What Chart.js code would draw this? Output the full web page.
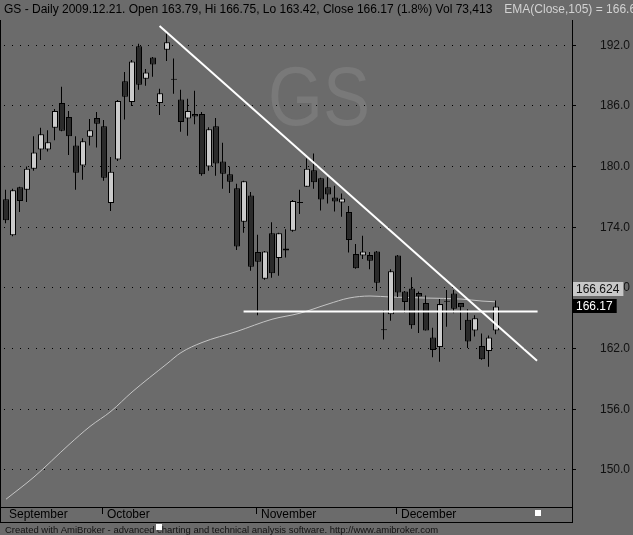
<!DOCTYPE html>
<html>
<head>
<meta charset="utf-8">
<script src="https://cdn.jsdelivr.net/npm/chart.js@4.4.0/dist/chart.umd.min.js"></script>
<style>
  html, body { margin: 0; padding: 0; background: #6b6b6b; }
  #wrap { width: 633px; height: 535px; }
  canvas { display: block; }
</style>
</head>
<body>
<div id="wrap"><canvas id="gsChart" width="633" height="535"></canvas></div>
<script>
// GS daily, 2009-09-11 .. 2009-12-21 (index = trading day)
const opens = [176.77, 173.2, 177.95, 177.7, 179.8, 181.7, 181.7, 183.85, 186.3, 184.9,
  182.1, 180.1, 182.95, 184.8, 184.0, 176.4, 180.7, 188.45, 186.4, 191.9,
  188.7, 190.8, 186.3, 191.55, 188.7, 186.65, 184.75, 185.2, 185.2, 180.0,
  184.0, 180.5, 179.25, 177.85, 174.55, 177.15, 171.55, 168.9, 173.4, 170.95,
  171.9, 173.65, 176.5, 178.0, 179.65, 178.85, 177.95, 176.95, 176.45, 175.5,
  171.35, 171.2, 171.25, 171.6, 163.92, 165.4, 171.2, 167.65, 167.95, 167.5,
  166.5, 163.1, 162.15, 166.72, 167.45, 166.5, 164.85, 163.8, 162.25, 161.75,
  163.79];
const highs = [177.7, 177.8, 178.0, 180.0, 183.0, 183.85, 183.6, 185.7, 187.9, 185.5,
  183.0, 182.8, 184.7, 185.4, 184.6, 180.95, 186.6, 189.35, 190.55, 192.15,
  189.65, 190.85, 187.7, 193.2, 190.7, 187.6, 186.7, 187.5, 185.4, 183.9,
  184.8, 182.35, 180.0, 178.3, 178.6, 177.5, 173.25, 171.65, 174.5, 173.45,
  173.8, 176.7, 177.7, 180.8, 181.3, 178.9, 178.95, 178.1, 177.35, 176.1,
  172.35, 173.15, 171.55, 171.65, 165.8, 169.85, 171.25, 167.7, 169.05, 167.65,
  167.25, 164.05, 166.9, 167.8, 167.8, 166.5, 165.9, 165.3, 163.5, 163.3,
  166.75];
const lows = [174.4, 173.1, 175.5, 176.5, 179.6, 180.65, 181.5, 182.6, 183.5, 181.15,
  177.7, 178.7, 182.1, 181.9, 178.6, 175.6, 180.55, 184.65, 186.0, 187.6,
  188.0, 188.9, 185.1, 190.45, 187.2, 183.45, 183.05, 184.2, 179.1, 179.6,
  179.1, 177.8, 177.4, 171.75, 173.45, 169.7, 165.3, 168.8, 169.0, 169.2,
  171.0, 173.55, 175.3, 178.0, 177.8, 175.65, 176.35, 175.55, 175.05, 171.5,
  169.9, 170.85, 169.85, 167.7, 162.9, 164.75, 167.1, 165.55, 163.95, 163.55,
  163.8, 161.15, 160.7, 164.15, 165.5, 163.85, 162.05, 163.2, 160.9, 160.2,
  163.42];
const closes = [174.69, 177.65, 176.6, 179.8, 181.4, 183.2, 182.4, 185.5, 183.55, 183.0,
  179.4, 182.5, 183.6, 184.25, 178.9, 179.5, 186.5, 186.9, 190.4, 188.1,
  189.3, 190.1, 187.25, 192.3, 188.6, 184.4, 185.5, 184.95, 179.25, 183.7,
  180.3, 179.3, 178.5, 172.1, 178.55, 170.1, 170.6, 171.6, 169.45, 173.4,
  171.7, 176.6, 176.4, 179.8, 178.45, 176.75, 177.25, 176.55, 176.85, 172.75,
  169.95, 171.6, 170.7, 168.5, 163.82, 169.65, 167.55, 166.6, 164.3, 167.15,
  163.8, 161.85, 166.4, 166.62, 165.95, 166.1, 162.7, 165.0, 160.95, 163.1,
  166.17];

// EMA(Close,105)
const emaIdx = [0, 4, 9, 12, 15, 18, 23, 25, 28, 33, 38, 42, 46, 49, 52, 55, 60, 65, 68, 70];
const emaVals = [147.1, 149.3, 152.5, 154.3, 155.8, 157.7, 160.5, 161.6, 162.6, 163.7,
  164.9, 165.5, 166.4, 167.0, 167.2, 167.1, 167.0, 166.9, 166.7, 166.624];

// hand-drawn lines
const trendIdx = [21.94, 75.86];
const trendVals = [193.9, 160.8];
const supportIdx = [33.94, 75.94];
const supportVals = [165.67, 165.67];

const yTicks = [150, 156, 162, 168, 174, 180, 186, 192];
const monthLabels = ['September', 'October', 'November', 'December'];
const monthStarts = [0, 14, 36, 56];

const titleText = 'GS - Daily 2009.12.21. Open 163.79, Hi 166.75, Lo 163.42, Close 166.17 (1.8%) Vol 73,413';
const emaText = 'EMA(Close,105) = 166.624';
const footerText = 'Created with AmiBroker - advanced charting and technical analysis software. http://www.amibroker.com';

const FONT = '"Liberation Sans", Arial, sans-serif';
const BG = '#6b6b6b';

const bodyData = opens.map((o, i) => ({ x: i, y: [o, closes[i]] }));
const wickData = lows.map((l, i) => ({ x: i, y: [l, highs[i]] }));
const bodyColors = opens.map((o, i) => closes[i] >= o ? '#cbcbcb' : '#2b2b2b');

function fitFont(ctx, text, target, base) {
    ctx.font = base + 'px ' + FONT;
    const w = ctx.measureText(text).width;
    return base * target / w;
}

const decor = {
    id: 'decor',
    beforeDraw(chart) {
        const ctx = chart.ctx;
        ctx.save();
        ctx.fillStyle = BG;
        ctx.fillRect(0, 0, chart.width, chart.height);
        // watermark (narrow face, so squeeze it)
        ctx.fillStyle = '#797979';
        ctx.font = '84px ' + FONT;
        ctx.textAlign = 'center';
        ctx.textBaseline = 'alphabetic';
        ctx.translate(319, 125);
        ctx.scale(0.84, 1);
        ctx.fillText('GS', 0, 0);
        ctx.restore();
    },
    beforeDatasetDraw(chart, args) {
        if (chart.data.datasets[args.index].label === 'wick') {
            chart.ctx.save();
            chart.ctx.translate(-0.5, 0);
        }
    },
    afterDatasetDraw(chart, args) {
        if (chart.data.datasets[args.index].label === 'wick') {
            chart.ctx.restore();
        }
    },
    afterDraw(chart) {
        const ctx = chart.ctx;
        const xs = chart.scales.x;
        const ys = chart.scales.y;
        const area = chart.chartArea;
        ctx.save();

        // frame
        ctx.fillStyle = '#000';
        ctx.fillRect(0, 20, 1, 503);
        ctx.fillRect(0, area.bottom, area.right + 1, 1);
        ctx.fillRect(0, 522, area.right + 1, 1);
        ctx.fillRect(area.right, 20, 1, 503);

        // month labels
        ctx.font = '12px ' + FONT;
        ctx.textBaseline = 'alphabetic';
        ctx.textAlign = 'left';
        monthLabels.forEach((m, k) => {
            const px = Math.round(xs.getPixelForValue(monthStarts[k]));
            if (k > 0) ctx.fillRect(px - 2, 508, 1, 6);
            ctx.fillText(m, px + 3, 518);
        });

        // footer
        ctx.fillStyle = '#111';
        ctx.font = fitFont(ctx, footerText, 433, 10).toFixed(2) + 'px ' + FONT;
        ctx.fillText(footerText, 5, 533);

        // white markers
        ctx.fillStyle = '#fff';
        ctx.fillRect(535, 510, 6, 6);
        ctx.fillRect(156, 524, 6, 6);

        // title
        ctx.font = '12px ' + FONT;
        ctx.fillStyle = '#000';
        ctx.fillText(titleText, 4, 13);
        const tw = ctx.measureText(titleText).width;
        ctx.fillStyle = '#d2d2d2';
        ctx.fillText(emaText, 4 + tw + 12, 13);

        // value boxes on the axis
        const closeY = ys.getPixelForValue(closes[closes.length - 1]);
        let emaY = ys.getPixelForValue(emaVals[emaVals.length - 1]);
        if (emaY > closeY - 17) emaY = closeY - 17;
        ctx.font = '12px ' + FONT;
        ctx.textBaseline = 'middle';

        const emaLabel = emaVals[emaVals.length - 1].toFixed(3);
        const ew = ctx.measureText(emaLabel).width;
        ctx.fillStyle = '#c8c8c8';
        ctx.fillRect(area.right + 1, Math.round(emaY) - 7, ew + 7, 14);
        ctx.fillStyle = '#111';
        ctx.fillText(emaLabel, area.right + 4, Math.round(emaY) + 0.5);

        const closeLabel = closes[closes.length - 1].toFixed(2);
        const cw = ctx.measureText(closeLabel).width;
        ctx.fillStyle = '#000';
        ctx.fillRect(area.right + 1, Math.round(closeY) - 7, cw + 7, 14);
        ctx.fillStyle = '#fff';
        ctx.fillText(closeLabel, area.right + 4, Math.round(closeY) + 0.5);

        ctx.restore();
    }
};

const chartData = {
    datasets: [
        {
            type: 'line',
            label: 'trend',
            data: trendIdx.map((x, i) => ({ x: x, y: trendVals[i] })),
            borderColor: '#ffffff',
            borderWidth: 2,
            pointRadius: 0,
            order: 0
        },
        {
            type: 'line',
            label: 'support',
            data: supportIdx.map((x, i) => ({ x: x, y: supportVals[i] })),
            borderColor: '#ffffff',
            borderWidth: 2,
            pointRadius: 0,
            order: 0
        },
        {
            type: 'bar',
            label: 'body',
            data: bodyData,
            backgroundColor: bodyColors,
            borderColor: '#000',
            borderWidth: 1,
            borderSkipped: false,
            grouped: false,
            barPercentage: 1,
            categoryPercentage: 1,
            barThickness: 6,
            maxBarThickness: 6,
            inflateAmount: 0,
            order: 1
        },
        {
            type: 'bar',
            label: 'wick',
            data: wickData,
            backgroundColor: '#000',
            borderWidth: 0,
            borderSkipped: false,
            grouped: false,
            barPercentage: 1,
            categoryPercentage: 1,
            barThickness: 1,
            maxBarThickness: 1,
            inflateAmount: 0,
            order: 2
        },
        {
            type: 'line',
            label: 'ema',
            data: emaIdx.map((x, i) => ({ x: x, y: emaVals[i] })),
            borderColor: '#c4c4c4',
            borderWidth: 1,
            pointRadius: 0,
            cubicInterpolationMode: 'monotone',
            order: 3
        }
    ]
};

const chartConfig = {
    type: 'bar',
    data: chartData,
    options: {
        responsive: false,
        animation: false,
        devicePixelRatio: 1,
        layout: { padding: { left: 2, top: 0, right: 0, bottom: 28 } },
        plugins: {
            legend: { display: false },
            tooltip: { enabled: false }
        },
        scales: {
            x: {
                type: 'linear',
                display: false,
                offset: false,
                min: -4 / 7,
                max: -4 / 7 + 570 / 7
            },
            y: {
                type: 'linear',
                position: 'right',
                min: 146.33,
                max: 196.48,
                afterBuildTicks: (scale) => {
                    scale.ticks = yTicks.map(v => ({ value: v }));
                },
                afterFit: (scale) => {
                    scale.width = 61;
                    scale.paddingTop = 0;
                    scale.paddingBottom = 0;
                },
                grid: {
                    color: '#000',
                    lineWidth: 1,
                    drawTicks: true,
                    tickLength: 4,
                    tickColor: '#000',
                    tickBorderDash: []
                },
                border: {
                    display: false,
                    dash: [1, 7],
                    dashOffset: 6
                },
                ticks: {
                    color: '#111',
                    padding: 24,
                    font: { family: FONT, size: 12 },
                    callback: (v) => Number(v).toFixed(1)
                }
            }
        }
    },
    plugins: [decor]
};

const gsChart = new Chart(document.getElementById('gsChart'), chartConfig);
</script>
</body>
</html>
